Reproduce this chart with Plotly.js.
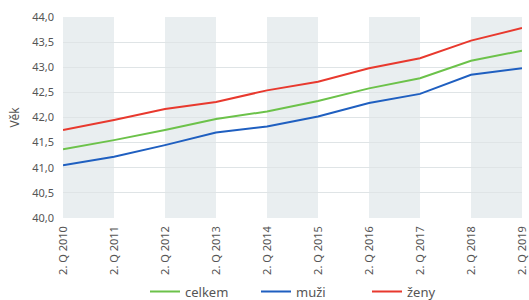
<!DOCTYPE html>
<html><head><meta charset="utf-8">
<script src="https://cdn.plot.ly/plotly-3.0.1.min.js"></script>
<style>html,body{margin:0;padding:0;background:#fff}#c{width:529px;height:300px}</style>
</head><body><div id="c"></div>
<script>
const years = [2010, 2011, 2012, 2013, 2014, 2015, 2016, 2017, 2018, 2019];
const tickLabels = ["2. Q 2010","2. Q 2011","2. Q 2012","2. Q 2013","2. Q 2014","2. Q 2015","2. Q 2016","2. Q 2017","2. Q 2018","2. Q 2019"];
const celkem = [41.37, 41.55, 41.75, 41.97, 42.12, 42.33, 42.58, 42.78, 43.13, 43.33];
const muzi   = [41.05, 41.22, 41.45, 41.70, 41.82, 42.02, 42.29, 42.47, 42.85, 42.98];
const zeny   = [41.75, 41.95, 42.17, 42.31, 42.54, 42.71, 42.98, 43.18, 43.53, 43.78];
const seriesNames = ["celkem", "muži", "ženy"];
const bandStarts = [2010, 2012, 2014, 2016, 2018];

const colors = ["#6cc24a", "#1f5fc0", "#e8392e"];
const data = [celkem, muzi, zeny].map((v, i) => ({
  x: years, y: v, type: "scatter", mode: "lines", name: seriesNames[i],
  line: {color: colors[i], width: 2}
}));

const shapes = bandStarts.map(s => ({
  type: "rect", xref: "x", yref: "paper", x0: s, x1: s + 1, y0: 0, y1: 1,
  fillcolor: "#e9eef0", line: {width: 0}, layer: "below"
}));

const layout = {
  width: 529, height: 300,
  margin: {l: 63, r: 7, t: 17, b: 82, autoexpand: false},
  paper_bgcolor: "#fff", plot_bgcolor: "#fff",
  separators: ", ",
  font: {family: "Noto Sans, Open Sans, sans-serif", size: 11, color: "#555"},
  showlegend: true,
  legend: {orientation: "h", x: (145 - 63) / 459, xanchor: "left", y: -0.366, yanchor: "middle",
           entrywidth: 66, entrywidthmode: "pixels",
           font: {size: 13, color: "#555"}, bgcolor: "rgba(0,0,0,0)"},
  xaxis: {range: [2010, 2019], tickvals: years, ticktext: tickLabels, tickangle: -90,
          showgrid: false, zeroline: false, showline: false, ticks: "", ticklabelstandoff: 5,
          ticklabeloverflow: "allow", automargin: false,
          tickfont: {size: 11, color: "#555"}, fixedrange: true},
  yaxis: {range: [40, 44], dtick: 0.5, tick0: 40, tickformat: ".1f", showgrid: true,
          gridcolor: "#dfe4e6", gridwidth: 1, zeroline: false, showline: false, ticks: "",
          ticklabelstandoff: 8, tickfont: {size: 11, color: "#555"}, automargin: false,
          title: {text: "Věk", font: {size: 12, color: "#555"}, standoff: 9}, fixedrange: true},
  shapes: shapes
};
Plotly.newPlot("c", data, layout, {displayModeBar: false, staticPlot: true});
</script></body></html>
